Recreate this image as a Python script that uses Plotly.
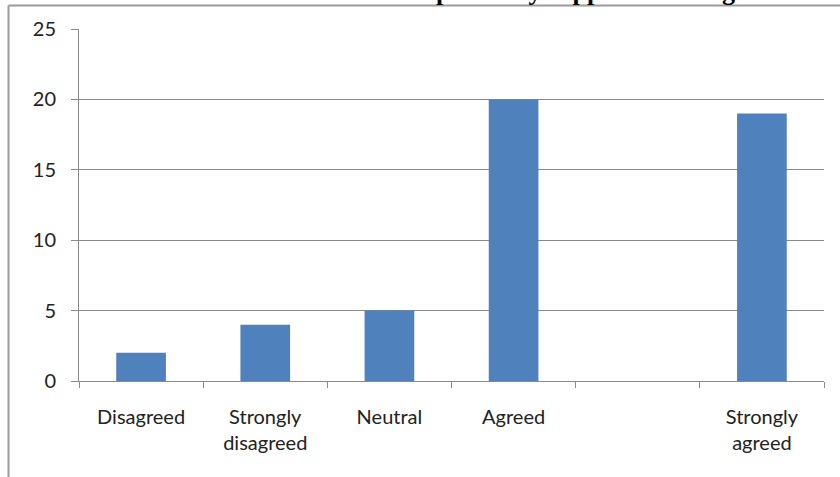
import plotly.graph_objects as go

# Survey responses per category (the fifth slot is left empty)
categories = ["Disagreed", "Strongly<br>disagreed", "Neutral", "Agreed", " ", "Strongly<br>agreed"]
counts = [2, 4, 5, 20, None, 19]
y_ticks = [0, 5, 10, 15, 20, 25]

W, H = 840, 477
ML, MR, MT, MB = 79, 16, 29, 96
PW, PH = W - ML - MR, H - MT - MB


def px_x(x):
    return (x - ML) / PW


def px_y(y):
    return (H - MB - y) / PH


fig = go.Figure(
    go.Bar(
        x=categories,
        y=counts,
        width=0.4,
        marker=dict(color="#4F81BD", line=dict(width=0)),
        hoverinfo="x+y",
    )
)

grid = "#8a8a8a"
fig.update_layout(
    width=W,
    height=H,
    margin=dict(l=ML, r=MR, t=MT, b=MB, pad=0),
    paper_bgcolor="white",
    plot_bgcolor="white",
    showlegend=False,
    font=dict(family="Lato, Carlito, sans-serif", size=20, color="#222222"),
    xaxis=dict(
        type="category",
        showline=True,
        linecolor=grid,
        linewidth=1,
        ticks="outside",
        ticklen=6,
        tickcolor=grid,
        tickson="boundaries",
        showgrid=False,
        ticklabelstandoff=18,
        tickfont=dict(size=20),
    ),
    yaxis=dict(
        range=[0, 25],
        tickvals=y_ticks,
        showline=True,
        linecolor=grid,
        linewidth=1,
        ticks="outside",
        ticklen=7,
        tickcolor=grid,
        showgrid=True,
        gridcolor=grid,
        gridwidth=1,
        zeroline=False,
        ticklabelstandoff=11,
        tickfont=dict(size=20),
    ),
    shapes=[
        # chart frame (left and top edges)
        dict(type="line", xref="paper", yref="paper",
             x0=px_x(8.5), x1=px_x(840), y0=px_y(5.5), y1=px_y(5.5),
             line=dict(color="#9a9a9a", width=2)),
        dict(type="line", xref="paper", yref="paper",
             x0=px_x(8.5), x1=px_x(8.5), y0=px_y(5.5), y1=px_y(480),
             line=dict(color="#9a9a9a", width=2)),
    ],
    annotations=[
        dict(
            text="<b>Students who positively support teaching</b>",
            xref="paper", yref="paper",
            x=px_x(278), y=px_y(7.5),
            xanchor="left", yanchor="bottom",
            showarrow=False,
            font=dict(family="Liberation Serif, Times New Roman, serif", size=26, color="black"),
        )
    ],
)

fig.write_html("out.html")
